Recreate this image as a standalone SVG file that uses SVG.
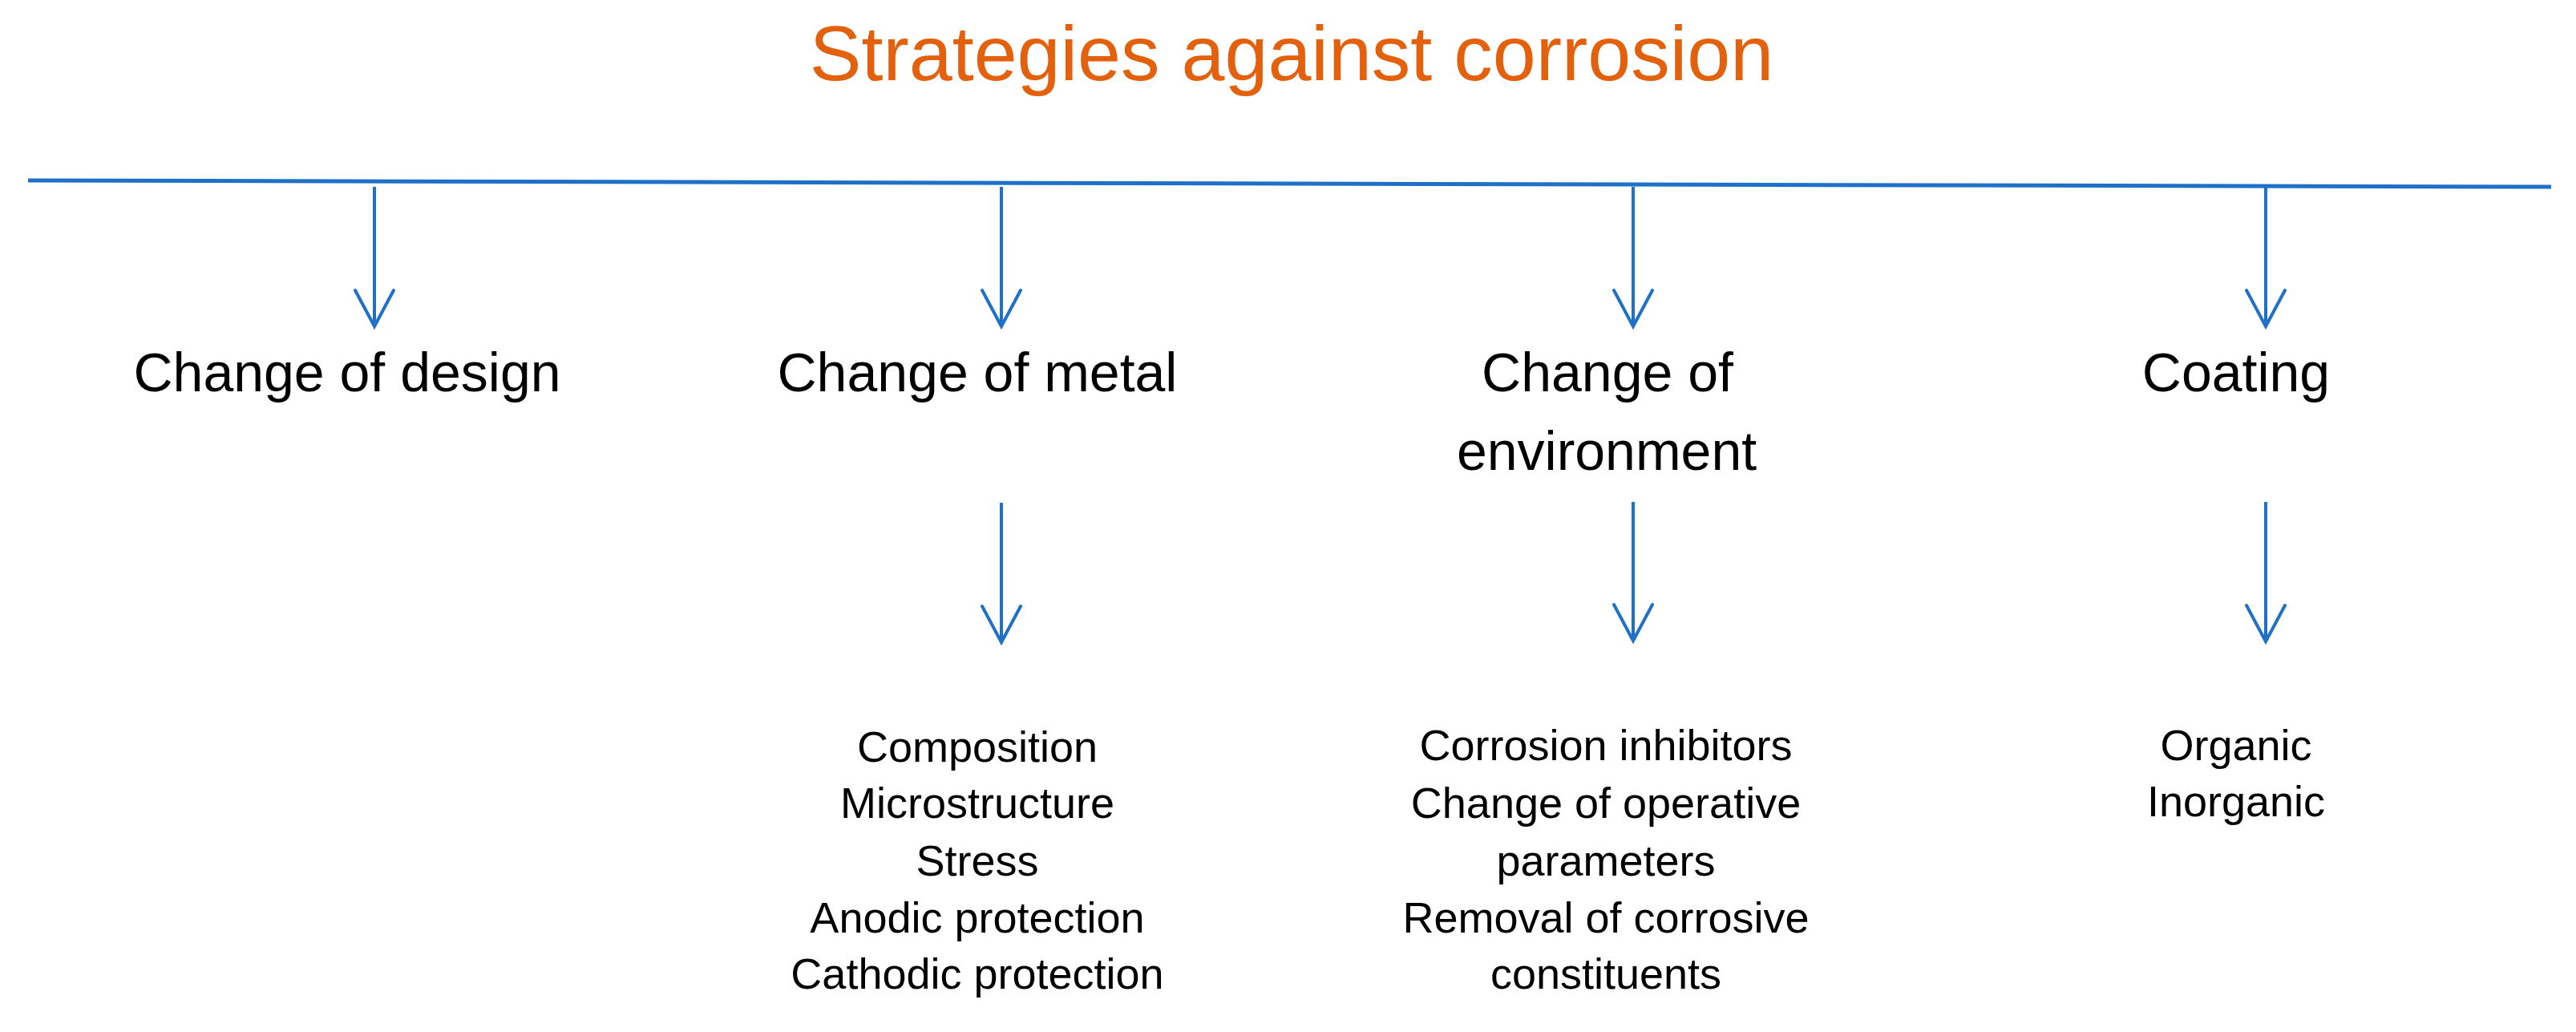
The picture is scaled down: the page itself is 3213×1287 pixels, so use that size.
<svg xmlns="http://www.w3.org/2000/svg" width="3213" height="1287" viewBox="0 0 3213 1287">
  <style>
    .title { font-family: "Liberation Sans", Arial, sans-serif; font-size: 97px; fill: #E3600D; text-anchor: middle; }
    .lbl { font-family: "Liberation Sans", Arial, sans-serif; font-size: 68px; fill: #000000; text-anchor: middle; }
    .sub { font-family: "Liberation Sans", Arial, sans-serif; font-size: 54px; fill: #000000; text-anchor: middle; }
    .conn { stroke: #1F70C8; stroke-width: 4; fill: none; }
    .bar { stroke: #1F70C8; stroke-width: 5; fill: none; }
  </style>
  <defs>
    <marker id="vhead" markerUnits="userSpaceOnUse" viewBox="-52 -30 58 60" markerWidth="58" markerHeight="60" refX="0" refY="0" orient="auto">
      <path d="M -45 -24 L 0 0 L -45 24" fill="none" stroke="#1F70C8" stroke-width="4" stroke-linecap="round" stroke-linejoin="miter"/>
    </marker>
  </defs>
  <rect width="3213" height="1287" fill="#FFFFFF"/>

  <g id="title">
    <text class="title" x="1611" y="100">Strategies against corrosion</text>
  </g>

  <g id="connectors">
    <line class="bar" x1="35" y1="225" x2="3182" y2="233"/>
    <line class="conn" x1="467" y1="233" x2="467" y2="407" marker-end="url(#vhead)"/>
    <line class="conn" x1="1249" y1="233" x2="1249" y2="407" marker-end="url(#vhead)"/>
    <line class="conn" x1="2037" y1="233" x2="2037" y2="407" marker-end="url(#vhead)"/>
    <line class="conn" x1="2826" y1="233" x2="2826" y2="407" marker-end="url(#vhead)"/>
    <line class="conn" x1="1249" y1="627" x2="1249" y2="801" marker-end="url(#vhead)"/>
    <line class="conn" x1="2037" y1="626" x2="2037" y2="799" marker-end="url(#vhead)"/>
    <line class="conn" x1="2826" y1="626" x2="2826" y2="800" marker-end="url(#vhead)"/>
  </g>

  <g id="node-design">
    <text class="lbl" x="433" y="488">Change of design</text>
  </g>

  <g id="node-metal">
    <text class="lbl" x="1219" y="488">Change of metal</text>
  </g>

  <g id="node-environment">
    <text class="lbl" x="2005" y="488">Change of</text>
    <text class="lbl" x="2004" y="586">environment</text>
  </g>

  <g id="node-coating">
    <text class="lbl" x="2789" y="488">Coating</text>
  </g>

  <g id="list-metal">
    <text class="sub" x="1219" y="950">Composition</text>
    <text class="sub" x="1219" y="1020">Microstructure</text>
    <text class="sub" x="1219" y="1092">Stress</text>
    <text class="sub" x="1219" y="1163">Anodic protection</text>
    <text class="sub" x="1219" y="1233">Cathodic protection</text>
  </g>

  <g id="list-environment">
    <text class="sub" x="2003" y="948">Corrosion inhibitors</text>
    <text class="sub" x="2003" y="1020">Change of operative</text>
    <text class="sub" x="2003" y="1092">parameters</text>
    <text class="sub" x="2003" y="1163">Removal of corrosive</text>
    <text class="sub" x="2003" y="1233">constituents</text>
  </g>

  <g id="list-coating">
    <text class="sub" x="2789" y="948">Organic</text>
    <text class="sub" x="2789" y="1018">Inorganic</text>
  </g>
</svg>
